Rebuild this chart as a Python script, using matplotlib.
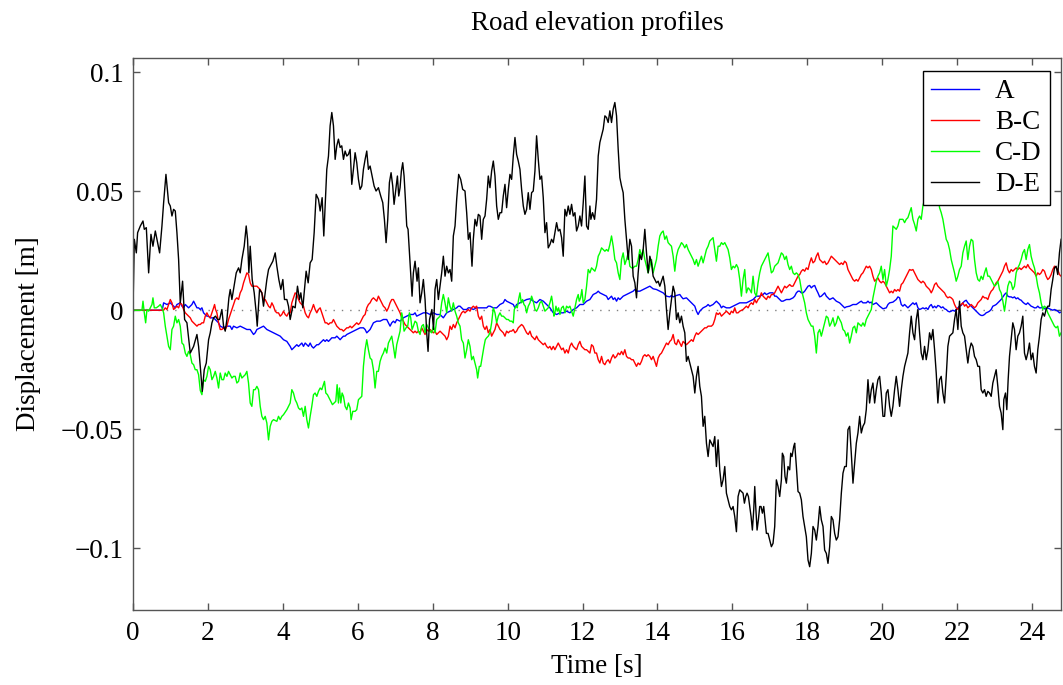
# road elevation profiles
#   displacement of four road classes vs time
import matplotlib
matplotlib.use("Agg")
import matplotlib.pyplot as plt

# data: (time [s], displacement [m])
road_a = [(0, 0), (0.78, 0), (0.818, 0.0031), (0.907, 0.0024), (0.996, 0.0031), (1.084, 0.0017), (1.129, 0.001),
    (1.173, 0.0024), (1.262, 0.0031), (1.307, 0.0017), (1.351, 0.001), (1.396, 0.0024), (1.44, 0.0017),
    (1.484, 0.001), (1.529, 0.0017), (1.573, 0.0024), (1.618, 0.0038), (1.662, 0.0024), (1.707, 0.001),
    (1.751, 0.001), (1.796, 0.0003), (1.84, 0.001), (1.884, -0.0011), (1.929, -0.0018), (1.973, -0.0025),
    (2.018, -0.0025), (2.062, -0.0032), (2.107, -0.0032), (2.151, -0.0032), (2.196, -0.0039), (2.24, -0.0046),
    (2.284, -0.0053), (2.329, -0.0067), (2.418, -0.0074), (2.507, -0.0067), (2.596, -0.0067), (2.64, -0.0081),
    (2.684, -0.0067), (2.773, -0.0074), (2.862, -0.0067), (2.951, -0.0074), (3.04, -0.0081), (3.129, -0.0081),
    (3.218, -0.0102), (3.262, -0.0095), (3.307, -0.0081), (3.396, -0.0074), (3.484, -0.0067), (3.573, -0.0081),
    (3.662, -0.0088), (3.751, -0.0095), (3.84, -0.0102), (3.929, -0.0109), (4.018, -0.0124), (4.107, -0.0131),
    (4.196, -0.0152), (4.24, -0.0166), (4.284, -0.0159), (4.329, -0.0152), (4.373, -0.0145), (4.418, -0.0152),
    (4.462, -0.0145), (4.507, -0.0138), (4.551, -0.0152), (4.596, -0.0138), (4.64, -0.0145), (4.684, -0.0152),
    (4.729, -0.0138), (4.773, -0.0152), (4.818, -0.0159), (4.862, -0.0152), (4.907, -0.0145), (4.951, -0.0145),
    (4.996, -0.0138), (5.04, -0.0131), (5.084, -0.0124), (5.129, -0.0131), (5.173, -0.0124), (5.218, -0.0131),
    (5.262, -0.0124), (5.307, -0.0116), (5.351, -0.0116), (5.396, -0.0116), (5.44, -0.0109), (5.484, -0.0116),
    (5.529, -0.0124), (5.573, -0.0116), (5.618, -0.0109), (5.662, -0.0109), (5.707, -0.0102), (5.796, -0.0095),
    (5.884, -0.0088), (5.973, -0.0081), (6.062, -0.0074), (6.151, -0.0074), (6.196, -0.0081), (6.24, -0.0095),
    (6.284, -0.0088), (6.329, -0.0081), (6.373, -0.0067), (6.418, -0.0053), (6.507, -0.0046), (6.596, -0.0046),
    (6.684, -0.0039), (6.773, -0.0039), (6.818, -0.0053), (6.862, -0.0067), (6.907, -0.0053), (6.951, -0.0046),
    (6.996, -0.0053), (7.04, -0.0039), (7.129, -0.0046), (7.218, -0.0032), (7.307, -0.0025), (7.396, -0.0018),
    (7.484, -0.0018), (7.529, -0.0011), (7.573, -0.0025), (7.662, -0.0018), (7.751, -0.0011), (7.84, -0.0011),
    (7.929, -0.0018), (8.018, -0.0011), (8.107, -0.0018), (8.196, -0.0018), (8.284, -0.0032), (8.373, -0.0011),
    (8.462, -0.0004), (8.551, 0.0003), (8.64, 0.001), (8.684, 0.0017), (8.729, 0.0017), (8.773, 0.001),
    (8.818, 0.0003), (8.907, 0.0003), (8.951, 0.001), (8.996, 0.001), (9.084, 0.0003), (9.173, 0.001),
    (9.262, 0.001), (9.351, 0.001), (9.44, 0.001), (9.484, 0.0017), (9.529, 0.0017), (9.618, 0.001),
    (9.707, 0.001), (9.751, 0.0017), (9.796, 0.0024), (9.884, 0.0031), (9.929, 0.0045), (9.973, 0.0038),
    (10.062, 0.0031), (10.151, 0.0024), (10.196, 0.001), (10.24, 0.0024), (10.329, 0.0031), (10.418, 0.0038),
    (10.507, 0.0045), (10.596, 0.0048), (10.684, 0.0038), (10.773, 0.0031), (10.862, 0.0045), (10.951, 0.0038),
    (11.04, 0.0024), (11.129, 0.001), (11.218, -0.0011), (11.307, -0.0018), (11.396, -0.0011), (11.484, -0.0011),
    (11.573, -0.0004), (11.662, -0.0011), (11.751, 0.0003), (11.84, 0.001), (11.929, 0.0024), (12.018, 0.0024),
    (12.107, 0.0038), (12.196, 0.0045), (12.284, 0.0066), (12.373, 0.0073), (12.418, 0.008), (12.462, 0.0073),
    (12.551, 0.0066), (12.64, 0.0059), (12.684, 0.0045), (12.729, 0.0052), (12.773, 0.0059), (12.818, 0.0045),
    (12.862, 0.0052), (12.907, 0.0038), (12.951, 0.0052), (12.996, 0.0045), (13.084, 0.0059), (13.173, 0.0066),
    (13.262, 0.0073), (13.351, 0.008), (13.396, 0.0087), (13.44, 0.008), (13.529, 0.008), (13.618, 0.0087),
    (13.707, 0.0094), (13.796, 0.0101), (13.884, 0.009), (13.973, 0.0087), (14.062, 0.008), (14.151, 0.0073),
    (14.196, 0.0066), (14.24, 0.0059), (14.329, 0.0056), (14.373, 0.0062), (14.418, 0.0056), (14.507, 0.0062),
    (14.596, 0.0066), (14.64, 0.0056), (14.684, 0.0048), (14.773, 0.0052), (14.818, 0.0045), (14.862, 0.0038),
    (14.951, 0.0024), (14.996, 0.0017), (15.04, -0.0004), (15.084, -0.0018), (15.129, -0.0004), (15.218, 0.001),
    (15.307, 0.0017), (15.351, 0.0024), (15.396, 0.0017), (15.484, 0.0024), (15.573, 0.0038), (15.662, 0.0024),
    (15.707, 0.001), (15.751, 0.0017), (15.84, 0.001), (15.929, 0.001), (16.018, 0.0017), (16.107, 0.0024),
    (16.196, 0.0031), (16.284, 0.0031), (16.373, 0.0031), (16.462, 0.0038), (16.551, 0.0045), (16.596, 0.0052),
    (16.64, 0.0059), (16.729, 0.0059), (16.818, 0.0066), (16.862, 0.0073), (16.907, 0.0066), (16.996, 0.0073),
    (17.084, 0.0073), (17.129, 0.0059), (17.173, 0.0059), (17.262, 0.0045), (17.307, 0.0038), (17.351, 0.0038),
    (17.44, 0.0045), (17.529, 0.0045), (17.618, 0.0052), (17.662, 0.0059), (17.707, 0.0073), (17.751, 0.008),
    (17.796, 0.008), (17.84, 0.0073), (17.884, 0.0073), (17.929, 0.008), (17.973, 0.009), (18.018, 0.0101),
    (18.062, 0.0104), (18.107, 0.0094), (18.151, 0.0101), (18.196, 0.0104), (18.24, 0.0087), (18.284, 0.0073),
    (18.329, 0.0056), (18.373, 0.0059), (18.418, 0.0066), (18.462, 0.0073), (18.507, 0.0059), (18.551, 0.0052),
    (18.596, 0.0045), (18.684, 0.0052), (18.729, 0.0045), (18.773, 0.0038), (18.862, 0.0031), (18.951, 0.0017),
    (18.996, 0.001), (19.04, 0.0014), (19.129, 0.0017), (19.218, 0.0024), (19.307, 0.0024), (19.396, 0.0034),
    (19.44, 0.0038), (19.484, 0.0031), (19.573, 0.0031), (19.618, 0.0038), (19.662, 0.0031), (19.707, 0.0034),
    (19.751, 0.0024), (19.84, 0.0031), (19.929, 0.0017), (20.018, 0.0006), (20.107, 0.001), (20.151, 0.0024),
    (20.196, 0.0031), (20.284, 0.0034), (20.373, 0.0045), (20.418, 0.0056), (20.462, 0.0052), (20.507, 0.0024),
    (20.551, 0.0017), (20.596, 0.0024), (20.64, 0.0017), (20.684, 0.001), (20.729, 0.0017), (20.773, 0.0024),
    (20.818, 0.0031), (20.862, 0.0024), (20.907, 0.0031), (20.951, 0.001), (20.996, 0.0003), (21.04, 0.0006),
    (21.084, 0.001), (21.129, 0.0006), (21.173, 0.001), (21.218, 0.0003), (21.262, 0.0017), (21.307, 0.0024),
    (21.351, 0.001), (21.396, 0.0017), (21.44, 0.001), (21.484, 0.002), (21.529, 0.0017), (21.573, 0.001),
    (21.618, 0.0014), (21.662, 0.0006), (21.707, 0.0003), (21.751, -0.0004), (21.796, -0.0007), (21.84, -0.0004),
    (21.884, 0.0), (21.929, -0.0004), (21.973, 0.0003), (22.018, 0.001), (22.062, 0.0017), (22.107, 0.002),
    (22.151, 0.0031), (22.196, 0.0038), (22.24, 0.0042), (22.284, 0.0031), (22.329, 0.0024), (22.373, 0.0017),
    (22.418, 0.001), (22.462, 0.0003), (22.507, -0.0004), (22.551, -0.0011), (22.596, -0.0018), (22.64, -0.0022),
    (22.684, -0.0022), (22.729, -0.0018), (22.773, -0.0011), (22.818, -0.0008), (22.862, -0.0004), (22.907, 0.0003),
    (22.951, 0.0017), (22.996, 0.002), (23.04, 0.0024), (23.084, 0.0031), (23.129, 0.0038), (23.173, 0.0045),
    (23.218, 0.0056), (23.262, 0.0066), (23.307, 0.0073), (23.351, 0.0059), (23.396, 0.0056), (23.44, 0.0056),
    (23.484, 0.0052), (23.529, 0.0056), (23.573, 0.0048), (23.618, 0.0052), (23.662, 0.0045), (23.707, 0.0042),
    (23.751, 0.0034), (23.796, 0.0028), (23.84, 0.0024), (23.884, 0.0031), (23.929, 0.0024), (23.973, 0.0017),
    (24.018, 0.0014), (24.062, 0.001), (24.107, 0.001), (24.151, 0.0017), (24.196, 0.001), (24.24, 0.001),
    (24.284, 0.0014), (24.329, 0.0006), (24.373, 0.0006), (24.418, 0.001), (24.462, 0.0006), (24.507, 0.0003),
    (24.551, 0.0), (24.596, 0.0003), (24.64, 0.0), (24.684, -0.0004), (24.729, -0.0011), (24.773, -0.0008)]

road_bc = [(0, 0), (0.818, 0), (0.862, 0.001), (0.907, 0.0003), (0.951, 0.0024), (0.996, 0.0045), (1.04, 0.0031),
    (1.084, 0.0003), (1.129, 0.001), (1.173, 0.0017), (1.218, 0.001), (1.262, 0.0031), (1.307, 0.0024),
    (1.351, 0.0003), (1.396, -0.0011), (1.44, -0.0018), (1.484, -0.0025), (1.529, -0.0032), (1.573, -0.0046),
    (1.618, -0.0053), (1.662, -0.006), (1.707, -0.0067), (1.751, -0.006), (1.796, -0.006), (1.84, -0.0053),
    (1.884, -0.0053), (1.929, -0.0025), (1.973, -0.0011), (2.018, -0.0025), (2.062, -0.0032), (2.107, -0.0011),
    (2.151, 0.001), (2.178, 0.0024), (2.204, 0.0003), (2.24, -0.0011), (2.284, -0.0053), (2.329, -0.0081),
    (2.373, -0.0081), (2.418, -0.0074), (2.462, -0.0081), (2.507, -0.0067), (2.551, -0.0039), (2.596, -0.0018),
    (2.64, 0.0003), (2.684, 0.0024), (2.729, 0.0045), (2.773, 0.0052), (2.818, 0.0045), (2.862, 0.0073),
    (2.907, 0.0087), (2.951, 0.0115), (2.996, 0.0136), (3.04, 0.0157), (3.084, 0.015), (3.129, 0.0115),
    (3.173, 0.0101), (3.218, 0.0101), (3.262, 0.0101), (3.307, 0.0101), (3.351, 0.0094), (3.396, 0.0087),
    (3.44, 0.0073), (3.484, 0.0045), (3.529, 0.0045), (3.573, 0.0031), (3.618, 0.0017), (3.662, 0.001),
    (3.707, 0.0031), (3.751, 0.0017), (3.796, -0.0004), (3.84, -0.0011), (3.884, -0.0011), (3.929, -0.0025),
    (3.973, -0.0018), (4.018, -0.0004), (4.062, -0.0018), (4.107, -0.0025), (4.151, -0.0011), (4.196, -0.0011),
    (4.24, 0.0031), (4.284, 0.0052), (4.329, 0.0073), (4.373, 0.0066), (4.418, 0.0045), (4.462, 0.0031),
    (4.507, 0.0024), (4.551, 0.0017), (4.596, -0.0011), (4.64, -0.0025), (4.684, -0.0032), (4.729, -0.0011),
    (4.773, 0.0003), (4.818, 0.0024), (4.862, 0.0003), (4.907, -0.0011), (4.951, 0.0003), (4.996, 0.001),
    (5.04, -0.0011), (5.084, -0.0032), (5.129, -0.0053), (5.173, -0.0053), (5.218, -0.006), (5.262, -0.0053),
    (5.307, -0.0053), (5.351, -0.0039), (5.396, -0.0053), (5.44, -0.0067), (5.484, -0.0074), (5.529, -0.0081),
    (5.573, -0.0081), (5.618, -0.0088), (5.662, -0.0081), (5.707, -0.0074), (5.751, -0.0074), (5.796, -0.0067),
    (5.84, -0.0074), (5.884, -0.0067), (5.929, -0.006), (5.973, -0.0053), (6.018, -0.006), (6.062, -0.0053),
    (6.107, -0.0039), (6.151, -0.0025), (6.196, -0.0018), (6.24, 0.001), (6.284, 0.0024), (6.329, 0.0031),
    (6.373, 0.0045), (6.418, 0.0052), (6.462, 0.0045), (6.507, 0.0038), (6.551, 0.0059), (6.596, 0.0045),
    (6.64, 0.0031), (6.684, 0.0017), (6.729, 0.001), (6.773, -0.0004), (6.818, 0.001), (6.862, 0.0031),
    (6.907, 0.0045), (6.951, 0.0045), (6.996, 0.0031), (7.04, 0.0017), (7.084, 0.0003), (7.129, -0.0011),
    (7.173, -0.0032), (7.218, -0.0046), (7.262, -0.006), (7.307, -0.0067), (7.351, -0.0074), (7.396, -0.0081),
    (7.44, -0.0088), (7.484, -0.0095), (7.529, -0.0088), (7.573, -0.0095), (7.618, -0.0088), (7.662, -0.0095),
    (7.707, -0.0074), (7.751, -0.0088), (7.796, -0.0102), (7.84, -0.0081), (7.884, -0.0088), (7.929, -0.0081),
    (7.973, -0.0088), (8.018, -0.0095), (8.062, -0.0088), (8.107, -0.0102), (8.151, -0.0095), (8.196, -0.0088),
    (8.284, -0.0102), (8.329, -0.0109), (8.373, -0.0124), (8.418, -0.0109), (8.462, -0.0067), (8.507, -0.0081),
    (8.551, -0.006), (8.596, -0.0074), (8.64, -0.0053), (8.684, -0.0039), (8.729, -0.0025), (8.773, -0.0011),
    (8.818, -0.0004), (8.862, -0.0011), (8.907, -0.0004), (8.951, 0.0003), (8.996, -0.0004), (9.04, 0.001),
    (9.084, 0.0017), (9.129, 0.001), (9.173, 0.0017), (9.218, -0.0025), (9.262, -0.0039), (9.307, -0.0025),
    (9.351, -0.0067), (9.396, -0.0081), (9.44, -0.0067), (9.484, -0.0095), (9.529, -0.0081), (9.573, -0.0109),
    (9.618, -0.0095), (9.662, -0.0081), (9.707, -0.0053), (9.751, -0.0067), (9.796, -0.0081), (9.84, -0.0088),
    (9.884, -0.0095), (9.929, -0.0109), (9.973, -0.0088), (10.018, -0.0095), (10.062, -0.0088), (10.107, -0.0088),
    (10.151, -0.0081), (10.196, -0.0095), (10.24, -0.0088), (10.284, -0.0074), (10.329, -0.0067), (10.373, -0.006),
    (10.418, -0.0067), (10.462, -0.0081), (10.507, -0.0095), (10.551, -0.0102), (10.596, -0.0088), (10.64, -0.0109),
    (10.684, -0.0116), (10.729, -0.0124), (10.773, -0.0109), (10.818, -0.0124), (10.862, -0.0131), (10.907, -0.0138),
    (10.951, -0.0145), (10.996, -0.0138), (11.04, -0.0152), (11.084, -0.0159), (11.129, -0.0152), (11.173, -0.0166),
    (11.218, -0.0152), (11.262, -0.0166), (11.307, -0.0152), (11.351, -0.0138), (11.396, -0.0152), (11.44, -0.0166),
    (11.484, -0.0159), (11.529, -0.018), (11.573, -0.0166), (11.618, -0.018), (11.662, -0.0152), (11.707, -0.0138),
    (11.751, -0.0152), (11.796, -0.0159), (11.84, -0.0166), (11.884, -0.0145), (11.929, -0.0131), (11.973, -0.0152),
    (12.018, -0.0159), (12.062, -0.0166), (12.107, -0.0166), (12.151, -0.0173), (12.196, -0.018), (12.24, -0.0145),
    (12.284, -0.0152), (12.329, -0.018), (12.373, -0.018), (12.418, -0.0208), (12.462, -0.0222), (12.507, -0.0194),
    (12.551, -0.0222), (12.596, -0.0229), (12.64, -0.0215), (12.684, -0.0208), (12.729, -0.0222), (12.773, -0.0201),
    (12.818, -0.0187), (12.862, -0.0201), (12.907, -0.0194), (12.951, -0.018), (12.996, -0.0187), (13.04, -0.0173),
    (13.084, -0.0187), (13.129, -0.0166), (13.173, -0.0194), (13.218, -0.0201), (13.262, -0.0201), (13.307, -0.0208),
    (13.351, -0.0208), (13.396, -0.0222), (13.44, -0.0236), (13.484, -0.0222), (13.529, -0.0229), (13.573, -0.0215),
    (13.618, -0.0194), (13.662, -0.0187), (13.707, -0.0194), (13.751, -0.0187), (13.796, -0.0194), (13.84, -0.0208),
    (13.884, -0.0194), (13.929, -0.0215), (13.973, -0.0236), (14.018, -0.0201), (14.062, -0.0187), (14.107, -0.018),
    (14.151, -0.0166), (14.196, -0.0152), (14.24, -0.0138), (14.284, -0.0145), (14.329, -0.0131), (14.373, -0.0124),
    (14.418, -0.0102), (14.462, -0.0138), (14.507, -0.0145), (14.551, -0.0124), (14.596, -0.0138), (14.64, -0.0152),
    (14.684, -0.0131), (14.729, -0.0138), (14.773, -0.0145), (14.818, -0.0138), (14.862, -0.0131), (14.907, -0.0124),
    (14.951, -0.0131), (14.996, -0.0109), (15.04, -0.0095), (15.084, -0.0102), (15.129, -0.0095), (15.173, -0.0088),
    (15.218, -0.0081), (15.262, -0.0074), (15.307, -0.0074), (15.351, -0.0067), (15.396, -0.0067), (15.44, -0.0067),
    (15.484, -0.006), (15.529, -0.0039), (15.573, -0.0011), (15.618, -0.0018), (15.662, -0.0011), (15.707, -0.0025),
    (15.751, -0.0018), (15.796, -0.0011), (15.84, -0.0004), (15.884, -0.0011), (15.929, -0.0018), (15.973, -0.0004),
    (16.018, -0.0011), (16.062, 0.001), (16.107, -0.0011), (16.151, -0.0011), (16.196, -0.0004), (16.284, 0.0003),
    (16.329, 0.001), (16.373, 0.0017), (16.418, 0.001), (16.462, 0.0024), (16.507, 0.0031), (16.551, 0.0024),
    (16.596, 0.0045), (16.64, 0.0031), (16.684, 0.0045), (16.729, 0.0052), (16.773, 0.0073), (16.818, 0.0059),
    (16.862, 0.0052), (16.907, 0.0045), (16.951, 0.0059), (16.996, 0.0052), (17.04, 0.0066), (17.084, 0.0066),
    (17.129, 0.0073), (17.173, 0.0087), (17.218, 0.0101), (17.262, 0.0087), (17.307, 0.0073), (17.351, 0.0087),
    (17.396, 0.0101), (17.44, 0.0094), (17.484, 0.0101), (17.529, 0.0108), (17.573, 0.0101), (17.618, 0.0101),
    (17.662, 0.0115), (17.707, 0.0129), (17.751, 0.0143), (17.796, 0.015), (17.84, 0.0164), (17.884, 0.0171),
    (17.929, 0.0164), (17.973, 0.0178), (18.018, 0.0171), (18.062, 0.0199), (18.107, 0.022), (18.151, 0.0199),
    (18.196, 0.0206), (18.24, 0.0227), (18.284, 0.0241), (18.329, 0.0213), (18.373, 0.0206), (18.418, 0.0199),
    (18.462, 0.0206), (18.507, 0.0192), (18.551, 0.0199), (18.596, 0.0213), (18.64, 0.0227), (18.684, 0.022),
    (18.729, 0.0213), (18.773, 0.0206), (18.818, 0.0199), (18.862, 0.0192), (18.907, 0.0199), (18.951, 0.0192),
    (18.996, 0.0206), (19.04, 0.0199), (19.084, 0.0171), (19.129, 0.0157), (19.173, 0.0143), (19.218, 0.0129),
    (19.262, 0.0122), (19.307, 0.0129), (19.351, 0.0122), (19.396, 0.0136), (19.44, 0.015), (19.484, 0.0157),
    (19.529, 0.0171), (19.573, 0.0185), (19.618, 0.0178), (19.662, 0.0185), (19.707, 0.0171), (19.751, 0.0143),
    (19.796, 0.0122), (19.84, 0.0129), (19.884, 0.0136), (19.929, 0.0122), (19.973, 0.0115), (20.018, 0.0122),
    (20.062, 0.0115), (20.107, 0.0101), (20.151, 0.0087), (20.196, 0.0073), (20.24, 0.008), (20.284, 0.0073),
    (20.329, 0.0087), (20.373, 0.008), (20.418, 0.0087), (20.462, 0.008), (20.507, 0.0108), (20.551, 0.0115),
    (20.596, 0.0129), (20.64, 0.0143), (20.684, 0.0157), (20.729, 0.0171), (20.773, 0.0168), (20.818, 0.0171),
    (20.862, 0.0157), (20.907, 0.0143), (20.951, 0.0129), (20.996, 0.0122), (21.04, 0.0115), (21.084, 0.0122),
    (21.129, 0.0115), (21.173, 0.0101), (21.218, 0.0094), (21.262, 0.0087), (21.307, 0.0073), (21.351, 0.0087),
    (21.396, 0.0108), (21.44, 0.0115), (21.484, 0.0101), (21.529, 0.0094), (21.573, 0.0087), (21.618, 0.008),
    (21.662, 0.0073), (21.707, 0.0059), (21.751, 0.0052), (21.796, 0.0056), (21.84, 0.0052), (21.884, 0.0045),
    (21.929, 0.0024), (21.973, 0.001), (22.018, 0.0003), (22.062, 0.0017), (22.107, 0.0024), (22.151, 0.0031),
    (22.196, 0.0017), (22.24, 0.0024), (22.284, 0.001), (22.329, 0.0017), (22.373, 0.0024), (22.418, 0.0017),
    (22.462, 0.001), (22.507, 0.0017), (22.551, 0.0031), (22.596, 0.0038), (22.64, 0.0045), (22.684, 0.0059),
    (22.729, 0.0052), (22.773, 0.0052), (22.818, 0.0045), (22.862, 0.0066), (22.907, 0.008), (22.951, 0.0087),
    (22.996, 0.0101), (23.04, 0.0115), (23.084, 0.0122), (23.129, 0.0136), (23.173, 0.015), (23.218, 0.0164),
    (23.262, 0.0185), (23.307, 0.0199), (23.351, 0.0171), (23.396, 0.0157), (23.44, 0.0171), (23.484, 0.0164),
    (23.529, 0.0171), (23.573, 0.0178), (23.618, 0.0171), (23.662, 0.0178), (23.707, 0.0171), (23.751, 0.0178),
    (23.796, 0.0185), (23.84, 0.0178), (23.884, 0.0192), (23.929, 0.0178), (23.973, 0.0171), (24.018, 0.0164),
    (24.062, 0.0157), (24.107, 0.0143), (24.151, 0.0157), (24.196, 0.015), (24.24, 0.0157), (24.284, 0.0171),
    (24.329, 0.0164), (24.373, 0.0143), (24.418, 0.0129), (24.462, 0.0136), (24.507, 0.015), (24.551, 0.0171),
    (24.596, 0.0185), (24.64, 0.0178), (24.684, 0.0171), (24.729, 0.015), (24.773, 0.0143)]

road_cd = [(0, 0), (0.24, 0), (0.267, 0.0038), (0.302, -0.0011), (0.338, -0.0053), (0.373, 0.0003), (0.418, -0.0004),
    (0.462, 0.001), (0.507, 0.0024), (0.533, 0.0052), (0.569, 0.001), (0.622, 0.001), (0.684, 0.0017),
    (0.729, 0.0024), (0.773, 0.001), (0.818, -0.0011), (0.862, -0.0067), (0.907, -0.0109), (0.951, -0.0152),
    (0.996, -0.0166), (1.04, -0.0081), (1.084, -0.0067), (1.129, -0.0025), (1.173, -0.0053), (1.218, -0.0039),
    (1.262, -0.0067), (1.307, -0.0138), (1.351, -0.0145), (1.396, -0.018), (1.44, -0.0194), (1.484, -0.0173),
    (1.529, -0.0187), (1.573, -0.0222), (1.618, -0.0229), (1.662, -0.025), (1.707, -0.025), (1.751, -0.0271),
    (1.796, -0.0337), (1.84, -0.0355), (1.884, -0.0292), (1.929, -0.0299), (1.973, -0.0278), (2.018, -0.0236),
    (2.062, -0.025), (2.107, -0.0292), (2.151, -0.0278), (2.196, -0.0257), (2.24, -0.0285), (2.284, -0.0327),
    (2.329, -0.0264), (2.373, -0.0292), (2.418, -0.0292), (2.462, -0.0264), (2.507, -0.0278), (2.551, -0.0257),
    (2.596, -0.0271), (2.64, -0.0285), (2.684, -0.0278), (2.729, -0.0278), (2.773, -0.0306), (2.818, -0.0299),
    (2.862, -0.0264), (2.907, -0.0285), (2.951, -0.0278), (2.996, -0.0271), (3.04, -0.0257), (3.084, -0.0306),
    (3.129, -0.039), (3.173, -0.0404), (3.218, -0.0334), (3.262, -0.0334), (3.307, -0.032), (3.351, -0.0334),
    (3.396, -0.0404), (3.44, -0.0446), (3.484, -0.046), (3.529, -0.0446), (3.573, -0.0474), (3.618, -0.0545),
    (3.662, -0.0488), (3.707, -0.0467), (3.751, -0.046), (3.84, -0.0467), (3.884, -0.0446), (3.929, -0.046),
    (3.973, -0.0446), (4.018, -0.0439), (4.107, -0.0418), (4.196, -0.039), (4.24, -0.0334), (4.284, -0.0348),
    (4.329, -0.0376), (4.373, -0.039), (4.418, -0.0411), (4.462, -0.0418), (4.507, -0.0411), (4.551, -0.0446),
    (4.596, -0.0404), (4.64, -0.046), (4.684, -0.0495), (4.729, -0.0446), (4.773, -0.0404), (4.818, -0.0355),
    (4.862, -0.0348), (4.907, -0.0362), (4.951, -0.0341), (4.996, -0.0327), (5.04, -0.0334), (5.084, -0.0313),
    (5.111, -0.0299), (5.147, -0.0348), (5.191, -0.0355), (5.236, -0.0369), (5.28, -0.0383), (5.324, -0.0397),
    (5.369, -0.039), (5.413, -0.0383), (5.449, -0.0313), (5.484, -0.039), (5.511, -0.0327), (5.547, -0.039),
    (5.582, -0.0348), (5.618, -0.0362), (5.662, -0.0404), (5.707, -0.0418), (5.751, -0.039), (5.796, -0.0411),
    (5.822, -0.046), (5.867, -0.0425), (5.929, -0.0425), (5.973, -0.0418), (6.018, -0.0376), (6.062, -0.0369),
    (6.107, -0.0362), (6.151, -0.0236), (6.196, -0.0166), (6.24, -0.0124), (6.284, -0.0166), (6.329, -0.0201),
    (6.373, -0.0208), (6.418, -0.025), (6.462, -0.0327), (6.507, -0.0257), (6.551, -0.0257), (6.596, -0.0215),
    (6.64, -0.0194), (6.684, -0.018), (6.729, -0.0159), (6.773, -0.018), (6.818, -0.0138), (6.862, -0.0124),
    (6.907, -0.0109), (6.951, -0.0152), (6.996, -0.0201), (7.04, -0.0145), (7.084, -0.0116), (7.129, -0.0088),
    (7.173, -0.0011), (7.2, -0.0032), (7.236, -0.0088), (7.289, -0.0074), (7.333, -0.0067), (7.378, -0.0011),
    (7.413, -0.0032), (7.449, -0.0081), (7.484, -0.0067), (7.529, -0.0046), (7.573, -0.0053), (7.618, -0.0088),
    (7.662, -0.0102), (7.707, -0.0067), (7.751, -0.006), (7.796, -0.0095), (7.84, -0.006), (7.884, -0.0074),
    (7.929, -0.0088), (7.973, -0.0095), (8.018, -0.0067), (8.062, -0.0095), (8.107, -0.0039), (8.151, -0.0032),
    (8.196, -0.0025), (8.24, 0.0031), (8.284, 0.0066), (8.329, 0.0031), (8.373, -0.0011), (8.418, 0.0052),
    (8.462, 0.0017), (8.507, -0.0004), (8.551, 0.0031), (8.596, -0.0004), (8.64, -0.0025), (8.684, -0.0053),
    (8.729, -0.0067), (8.773, -0.0124), (8.818, -0.0138), (8.862, -0.0201), (8.907, -0.0166), (8.951, -0.0124),
    (8.996, -0.0152), (9.04, -0.0208), (9.084, -0.0194), (9.129, -0.0222), (9.173, -0.025), (9.2, -0.0285),
    (9.244, -0.0236), (9.28, -0.0236), (9.324, -0.0194), (9.369, -0.0152), (9.404, -0.0124), (9.44, -0.0116),
    (9.484, -0.0109), (9.529, -0.0095), (9.573, -0.0053), (9.618, 0.001), (9.662, -0.0011), (9.707, -0.0053),
    (9.751, -0.0025), (9.796, -0.0011), (9.84, -0.0025), (9.884, -0.0025), (9.929, -0.0032), (9.973, -0.0039),
    (10.018, -0.0039), (10.062, -0.0046), (10.107, -0.0046), (10.151, -0.0053), (10.178, 0.0003), (10.222, 0.0017),
    (10.258, 0.001), (10.293, 0.0045), (10.329, 0.0073), (10.364, 0.0031), (10.4, 0.0045), (10.436, 0.0024),
    (10.471, 0.0017), (10.507, -0.0011), (10.551, 0.0017), (10.596, 0.0031), (10.64, 0.0059), (10.684, 0.0038),
    (10.729, 0.0003), (10.773, -0.0004), (10.818, 0.001), (10.862, 0.0031), (10.907, 0.0038), (10.951, 0.0017),
    (10.996, -0.0004), (11.04, 0.0003), (11.084, 0.001), (11.129, 0.0031), (11.173, 0.0059), (11.2, 0.0031),
    (11.236, -0.0025), (11.262, -0.0011), (11.289, 0.0017), (11.324, -0.0004), (11.36, 0.001), (11.396, -0.0018),
    (11.44, 0.001), (11.484, 0.0017), (11.529, -0.0011), (11.573, 0.0017), (11.618, 0.001), (11.662, 0.0017),
    (11.707, -0.0004), (11.751, -0.0025), (11.796, 0.001), (11.84, 0.0045), (11.884, 0.0066), (11.911, 0.0038),
    (11.947, 0.0052), (11.982, 0.0087), (12.018, 0.0031), (12.062, 0.0045), (12.107, 0.0101), (12.151, 0.0171),
    (12.196, 0.0157), (12.24, 0.0178), (12.284, 0.0171), (12.329, 0.0164), (12.373, 0.0185), (12.418, 0.0227),
    (12.462, 0.0241), (12.507, 0.0262), (12.551, 0.0255), (12.596, 0.0248), (12.64, 0.0255), (12.684, 0.0248),
    (12.729, 0.0276), (12.773, 0.0312), (12.818, 0.0269), (12.862, 0.0213), (12.907, 0.0199), (12.951, 0.0157),
    (12.996, 0.0129), (13.04, 0.0213), (13.084, 0.0241), (13.129, 0.0192), (13.173, 0.0213), (13.218, 0.0241),
    (13.262, 0.0185), (13.307, 0.0178), (13.351, 0.0178), (13.396, 0.0185), (13.44, 0.0185), (13.484, 0.0213),
    (13.529, 0.0255), (13.573, 0.0227), (13.618, 0.0255), (13.662, 0.0213), (13.707, 0.0185), (13.751, 0.0157),
    (13.796, 0.0185), (13.84, 0.0213), (13.884, 0.0157), (13.929, 0.0185), (13.973, 0.0213), (14.018, 0.0269),
    (14.062, 0.0312), (14.107, 0.0326), (14.151, 0.0333), (14.196, 0.0298), (14.24, 0.0312), (14.284, 0.0284),
    (14.329, 0.0276), (14.373, 0.0269), (14.418, 0.0227), (14.462, 0.0164), (14.507, 0.0227), (14.551, 0.0255),
    (14.596, 0.0269), (14.64, 0.0284), (14.684, 0.0276), (14.729, 0.0262), (14.773, 0.0276), (14.818, 0.0255),
    (14.862, 0.0241), (14.907, 0.0227), (14.951, 0.0213), (14.996, 0.0192), (15.04, 0.0213), (15.084, 0.0185),
    (15.129, 0.0206), (15.173, 0.0227), (15.218, 0.0199), (15.262, 0.0227), (15.307, 0.0255), (15.351, 0.0269),
    (15.396, 0.0291), (15.44, 0.0298), (15.484, 0.0305), (15.529, 0.0255), (15.573, 0.0206), (15.618, 0.0269),
    (15.662, 0.0269), (15.707, 0.0284), (15.751, 0.0276), (15.796, 0.0284), (15.84, 0.0269), (15.884, 0.0255),
    (15.929, 0.022), (15.973, 0.0171), (16.018, 0.0185), (16.062, 0.0178), (16.107, 0.0192), (16.151, 0.0178),
    (16.196, 0.0129), (16.24, 0.0059), (16.284, 0.0129), (16.329, 0.0171), (16.373, 0.0073), (16.418, 0.0094),
    (16.462, 0.0087), (16.507, 0.0073), (16.551, 0.0143), (16.596, 0.0073), (16.64, 0.0059), (16.684, 0.0115),
    (16.729, 0.0157), (16.773, 0.0185), (16.818, 0.0199), (16.862, 0.0213), (16.907, 0.0227), (16.951, 0.0241),
    (16.996, 0.0199), (17.04, 0.0157), (17.084, 0.0164), (17.129, 0.0185), (17.173, 0.0192), (17.218, 0.0199),
    (17.262, 0.022), (17.307, 0.0241), (17.351, 0.0234), (17.396, 0.0213), (17.44, 0.0227), (17.484, 0.0192),
    (17.529, 0.0171), (17.573, 0.0185), (17.618, 0.0157), (17.662, 0.015), (17.707, 0.0157), (17.751, 0.015),
    (17.796, 0.0129), (17.84, 0.0087), (17.884, 0.0059), (17.929, 0.0031), (17.973, -0.0011), (18.018, -0.0039),
    (18.062, -0.0053), (18.107, -0.0067), (18.151, -0.0067), (18.196, -0.0109), (18.24, -0.018), (18.284, -0.0095),
    (18.329, -0.0081), (18.373, -0.0109), (18.418, -0.0081), (18.462, -0.0053), (18.507, -0.0025), (18.551, -0.0032),
    (18.596, -0.0067), (18.64, -0.0053), (18.684, -0.0032), (18.729, -0.0067), (18.773, -0.0053), (18.818, -0.0025),
    (18.862, -0.0039), (18.907, -0.0053), (18.951, -0.0081), (18.996, -0.0088), (19.04, -0.0109), (19.084, -0.0095),
    (19.129, -0.0138), (19.173, -0.0109), (19.218, -0.0074), (19.262, -0.0067), (19.307, -0.0095), (19.351, -0.0053),
    (19.396, -0.006), (19.44, -0.0067), (19.484, -0.0053), (19.529, -0.0067), (19.573, -0.0039), (19.618, -0.0025),
    (19.662, -0.0011), (19.707, 0.0003), (19.751, 0.0052), (19.796, 0.0087), (19.84, 0.0122), (19.884, 0.0143),
    (19.929, 0.0157), (19.973, 0.0185), (20.018, 0.0129), (20.062, 0.0171), (20.107, 0.0101), (20.151, 0.0129),
    (20.196, 0.0171), (20.24, 0.0227), (20.284, 0.0354), (20.329, 0.0347), (20.373, 0.034), (20.418, 0.0354),
    (20.462, 0.0382), (20.507, 0.0382), (20.551, 0.0382), (20.596, 0.0368), (20.64, 0.0382), (20.684, 0.0389),
    (20.729, 0.041), (20.773, 0.0431), (20.818, 0.0382), (20.862, 0.0361), (20.907, 0.0333), (20.951, 0.0382),
    (20.996, 0.0396), (21.04, 0.0382), (21.084, 0.0438), (21.129, 0.0466), (21.173, 0.048), (21.218, 0.0466),
    (21.262, 0.0494), (21.307, 0.0508), (21.351, 0.0536), (21.4, 0.057), (21.46, 0.052), (21.529, 0.0431),
    (21.573, 0.041), (21.618, 0.0382), (21.662, 0.034), (21.707, 0.0298), (21.751, 0.0284), (21.796, 0.0255),
    (21.84, 0.0213), (21.884, 0.0185), (21.929, 0.0157), (21.973, 0.0122), (22.018, 0.0143), (22.062, 0.0171),
    (22.107, 0.0185), (22.151, 0.0241), (22.196, 0.0269), (22.24, 0.0291), (22.284, 0.0213), (22.329, 0.0269),
    (22.373, 0.0298), (22.418, 0.0291), (22.462, 0.0213), (22.507, 0.0157), (22.551, 0.0129), (22.596, 0.0122),
    (22.64, 0.0143), (22.684, 0.0129), (22.729, 0.0157), (22.773, 0.0178), (22.818, 0.0143), (22.862, 0.0143),
    (22.907, 0.0129), (22.951, 0.0115), (22.996, 0.0101), (23.04, 0.0108), (23.084, 0.0122), (23.129, 0.0087),
    (23.173, 0.0073), (23.218, 0.0038), (23.262, -0.0004), (23.307, 0.0045), (23.351, 0.0101), (23.396, 0.0122),
    (23.44, 0.0115), (23.484, 0.0087), (23.529, 0.0101), (23.573, 0.0157), (23.618, 0.0178), (23.662, 0.0192),
    (23.707, 0.0213), (23.751, 0.0241), (23.796, 0.0255), (23.84, 0.0213), (23.884, 0.0255), (23.929, 0.0276),
    (23.973, 0.0227), (24.018, 0.0199), (24.062, 0.0178), (24.107, 0.0143), (24.151, 0.0101), (24.196, 0.0073),
    (24.24, 0.0031), (24.284, 0.0003), (24.329, 0.0017), (24.373, 0.001), (24.418, -0.0011), (24.462, -0.0025),
    (24.507, -0.0039), (24.551, -0.0053), (24.596, -0.0067), (24.64, -0.0074), (24.684, -0.0067), (24.729, -0.0109),
    (24.773, -0.0095)]

road_de = [(0, 0), (0.036, 0.0298), (0.089, 0.0241), (0.124, 0.0326), (0.196, 0.0354), (0.267, 0.0375), (0.302, 0.034),
    (0.356, 0.0347), (0.418, 0.0157), (0.48, 0.0319), (0.533, 0.0269), (0.596, 0.0333), (0.64, 0.0298),
    (0.711, 0.0241), (0.773, 0.0354), (0.818, 0.0452), (0.88, 0.0571), (0.951, 0.0452), (0.996, 0.0438),
    (1.04, 0.0396), (1.084, 0.0424), (1.129, 0.0417), (1.173, 0.0326), (1.218, 0.0213), (1.262, 0.0031),
    (1.324, 0.0122), (1.378, -0.0039), (1.44, -0.0053), (1.529, -0.018), (1.618, -0.0152), (1.707, -0.0102),
    (1.751, -0.0152), (1.796, -0.0236), (1.849, -0.0341), (1.902, -0.025), (1.956, -0.0222), (2.018, -0.0124),
    (2.062, -0.0095), (2.107, -0.0053), (2.151, -0.0032), (2.204, -0.0025), (2.258, -0.0039), (2.311, -0.0039),
    (2.373, 0.0003), (2.418, -0.0067), (2.462, -0.0088), (2.507, -0.0039), (2.56, 0.0052), (2.596, 0.0087),
    (2.64, 0.0045), (2.684, 0.0087), (2.756, 0.0157), (2.818, 0.0178), (2.862, 0.0157), (2.907, 0.0213),
    (2.969, 0.0269), (3.022, 0.0354), (3.058, 0.0298), (3.093, 0.0157), (3.129, 0.0269), (3.182, 0.0129),
    (3.236, 0.0073), (3.289, -0.0011), (3.316, -0.0067), (3.378, 0.0087), (3.44, 0.0073), (3.484, 0.0017),
    (3.529, 0.0073), (3.573, 0.0129), (3.618, 0.0171), (3.662, 0.0185), (3.733, 0.0206), (3.796, 0.0241),
    (3.84, 0.0185), (3.893, 0.0129), (3.947, 0.0087), (4.0, 0.0129), (4.044, 0.0045), (4.107, 0.0045),
    (4.151, 0.0017), (4.196, -0.0039), (4.267, 0.0017), (4.329, 0.001), (4.391, 0.0101), (4.444, 0.0045),
    (4.48, 0.0073), (4.533, 0.001), (4.569, 0.0073), (4.622, 0.0164), (4.676, 0.0115), (4.729, 0.0199),
    (4.782, 0.0213), (4.836, 0.0326), (4.889, 0.0487), (4.951, 0.0466), (4.996, 0.0417), (5.049, 0.0473),
    (5.093, 0.0312), (5.138, 0.0466), (5.173, 0.0592), (5.218, 0.0648), (5.262, 0.0775), (5.307, 0.0831),
    (5.351, 0.0775), (5.396, 0.0634), (5.44, 0.0691), (5.484, 0.0719), (5.529, 0.0684), (5.573, 0.0691),
    (5.618, 0.0634), (5.662, 0.0669), (5.707, 0.0648), (5.751, 0.0655), (5.796, 0.0676), (5.84, 0.0529),
    (5.884, 0.0592), (5.929, 0.0662), (5.973, 0.062), (6.018, 0.055), (6.062, 0.0508), (6.107, 0.0522),
    (6.151, 0.0592), (6.196, 0.0634), (6.24, 0.0669), (6.284, 0.0592), (6.329, 0.0606), (6.373, 0.0571),
    (6.436, 0.0522), (6.489, 0.0501), (6.551, 0.0515), (6.613, 0.048), (6.667, 0.0452), (6.711, 0.0382),
    (6.756, 0.0284), (6.8, 0.0382), (6.844, 0.0536), (6.889, 0.0578), (6.933, 0.0522), (6.969, 0.0445),
    (7.022, 0.0515), (7.058, 0.0564), (7.093, 0.048), (7.129, 0.0515), (7.164, 0.0585), (7.2, 0.062),
    (7.236, 0.0564), (7.271, 0.0466), (7.307, 0.0354), (7.342, 0.034), (7.396, 0.0199), (7.449, 0.0059),
    (7.484, 0.0157), (7.529, 0.0206), (7.582, 0.0122), (7.618, 0.0178), (7.662, 0.0031), (7.707, 0.0073),
    (7.751, 0.0129), (7.796, 0.0045), (7.84, -0.0095), (7.876, -0.0173), (7.916, -0.0039), (7.978, 0.0003),
    (8.022, -0.0081), (8.062, 0.0087), (8.107, 0.0129), (8.151, 0.0045), (8.196, 0.0101), (8.24, 0.0157),
    (8.284, 0.0227), (8.329, 0.0143), (8.373, 0.0185), (8.418, 0.0157), (8.462, 0.0171), (8.507, 0.0122),
    (8.551, 0.0312), (8.596, 0.0354), (8.64, 0.0466), (8.693, 0.0571), (8.747, 0.055), (8.8, 0.0508),
    (8.862, 0.0501), (8.907, 0.041), (8.951, 0.0298), (8.996, 0.0326), (9.049, 0.0185), (9.084, 0.0298),
    (9.129, 0.0382), (9.173, 0.0354), (9.218, 0.0403), (9.262, 0.0396), (9.307, 0.0298), (9.351, 0.0382),
    (9.396, 0.0396), (9.44, 0.0466), (9.484, 0.0564), (9.529, 0.0515), (9.573, 0.0585), (9.618, 0.0627),
    (9.662, 0.0564), (9.707, 0.0438), (9.751, 0.0382), (9.796, 0.041), (9.84, 0.041), (9.884, 0.048),
    (9.929, 0.0529), (9.973, 0.0431), (10.018, 0.0508), (10.062, 0.0571), (10.107, 0.055), (10.151, 0.0648),
    (10.196, 0.0726), (10.24, 0.0655), (10.284, 0.0627), (10.329, 0.0592), (10.373, 0.0508), (10.418, 0.0438),
    (10.462, 0.0403), (10.507, 0.0424), (10.551, 0.0494), (10.596, 0.0424), (10.64, 0.0494), (10.684, 0.0501),
    (10.729, 0.0585), (10.773, 0.0733), (10.818, 0.0634), (10.862, 0.055), (10.907, 0.0564), (10.951, 0.0473),
    (10.996, 0.0326), (11.04, 0.0368), (11.084, 0.0262), (11.129, 0.0276), (11.173, 0.0298), (11.218, 0.0284),
    (11.262, 0.0326), (11.307, 0.0368), (11.351, 0.0333), (11.396, 0.034), (11.44, 0.0305), (11.484, 0.0227),
    (11.529, 0.0424), (11.573, 0.0396), (11.618, 0.0438), (11.662, 0.0403), (11.707, 0.0445), (11.751, 0.0396),
    (11.796, 0.041), (11.84, 0.0333), (11.884, 0.0354), (11.929, 0.0396), (11.973, 0.0354), (12.018, 0.0452),
    (12.062, 0.0564), (12.107, 0.0354), (12.151, 0.034), (12.196, 0.0438), (12.222, 0.0382), (12.267, 0.041),
    (12.32, 0.0382), (12.373, 0.0466), (12.418, 0.0648), (12.462, 0.0705), (12.507, 0.0733), (12.551, 0.0761),
    (12.596, 0.0817), (12.64, 0.081), (12.684, 0.0789), (12.729, 0.0838), (12.773, 0.0789), (12.818, 0.0845),
    (12.862, 0.0873), (12.907, 0.0817), (12.951, 0.0676), (12.996, 0.0557), (13.04, 0.0522), (13.084, 0.0494),
    (13.129, 0.0382), (13.173, 0.0298), (13.218, 0.0213), (13.262, 0.0298), (13.307, 0.0269), (13.351, 0.0143),
    (13.396, 0.0115), (13.44, 0.0052), (13.484, 0.0157), (13.529, 0.0234), (13.573, 0.0213), (13.618, 0.0255),
    (13.662, 0.034), (13.707, 0.0241), (13.751, 0.0157), (13.796, 0.0227), (13.84, 0.0199), (13.884, 0.0143),
    (13.929, 0.0129), (13.973, 0.0115), (14.018, 0.0122), (14.062, 0.0101), (14.107, 0.0122), (14.151, 0.0143),
    (14.196, 0.0101), (14.24, 0.0003), (14.284, -0.0081), (14.329, -0.0011), (14.373, 0.0045), (14.418, 0.0101),
    (14.462, 0.0073), (14.507, -0.0039), (14.551, -0.0011), (14.596, -0.0053), (14.64, -0.0025), (14.684, -0.0067),
    (14.729, -0.0095), (14.773, -0.0215), (14.818, -0.0194), (14.862, -0.0222), (14.907, -0.025), (14.951, -0.0278),
    (14.996, -0.0348), (15.04, -0.0278), (15.084, -0.0236), (15.129, -0.032), (15.173, -0.0362), (15.218, -0.0488),
    (15.262, -0.0446), (15.307, -0.0559), (15.351, -0.0615), (15.396, -0.0545), (15.44, -0.0559), (15.484, -0.0573),
    (15.529, -0.0531), (15.573, -0.0657), (15.618, -0.0545), (15.662, -0.0671), (15.707, -0.0741), (15.751, -0.0713),
    (15.796, -0.0657), (15.84, -0.0769), (15.884, -0.0797), (15.929, -0.0825), (15.973, -0.0839), (16.018, -0.0825),
    (16.062, -0.0867), (16.107, -0.0931), (16.151, -0.0783), (16.196, -0.0755), (16.284, -0.0769), (16.32, -0.0811),
    (16.356, -0.0783), (16.391, -0.0769), (16.427, -0.0783), (16.462, -0.0825), (16.498, -0.0867), (16.533, -0.0924),
    (16.569, -0.0839), (16.596, -0.0741), (16.622, -0.0825), (16.658, -0.0924), (16.693, -0.0881), (16.729, -0.0825),
    (16.764, -0.0825), (16.8, -0.0853), (16.836, -0.0825), (16.871, -0.0881), (16.907, -0.0938), (16.951, -0.0938),
    (16.996, -0.0966), (17.04, -0.0994), (17.084, -0.098), (17.129, -0.0909), (17.173, -0.0713), (17.218, -0.0741),
    (17.262, -0.0783), (17.307, -0.0713), (17.333, -0.0601), (17.369, -0.0615), (17.404, -0.0699), (17.44, -0.0727),
    (17.484, -0.0657), (17.529, -0.0671), (17.556, -0.0601), (17.591, -0.0615), (17.636, -0.0573), (17.662, -0.0559),
    (17.707, -0.0657), (17.751, -0.0762), (17.796, -0.0769), (17.84, -0.0797), (17.884, -0.0867), (17.929, -0.0909),
    (17.973, -0.0952), (18.018, -0.105), (18.062, -0.1078), (18.107, -0.1022), (18.151, -0.0909), (18.196, -0.0924),
    (18.24, -0.0966), (18.284, -0.0909), (18.329, -0.0825), (18.373, -0.0881), (18.418, -0.0909), (18.462, -0.1008),
    (18.507, -0.1022), (18.551, -0.1064), (18.596, -0.0994), (18.64, -0.0867), (18.684, -0.0881), (18.729, -0.0938),
    (18.773, -0.0966), (18.818, -0.0952), (18.862, -0.0881), (18.907, -0.0769), (18.951, -0.0685), (18.996, -0.0657),
    (19.04, -0.0657), (19.084, -0.0502), (19.129, -0.0488), (19.173, -0.0601), (19.218, -0.0727), (19.262, -0.0643),
    (19.307, -0.0559), (19.351, -0.0516), (19.396, -0.0446), (19.44, -0.0516), (19.484, -0.0488), (19.529, -0.0474),
    (19.573, -0.0418), (19.618, -0.0292), (19.662, -0.039), (19.707, -0.0334), (19.751, -0.0306), (19.796, -0.039),
    (19.84, -0.0334), (19.884, -0.0292), (19.929, -0.0278), (19.973, -0.0348), (20.018, -0.0446), (20.062, -0.0446),
    (20.107, -0.0348), (20.151, -0.0334), (20.196, -0.0404), (20.24, -0.0446), (20.284, -0.0404), (20.329, -0.0334),
    (20.373, -0.0278), (20.418, -0.0334), (20.462, -0.0404), (20.507, -0.0334), (20.551, -0.0278), (20.596, -0.0236),
    (20.64, -0.0208), (20.684, -0.018), (20.729, -0.0095), (20.773, -0.0025), (20.818, -0.0095), (20.862, -0.0124),
    (20.907, -0.0039), (20.951, 0.0003), (20.996, -0.0095), (21.04, -0.018), (21.084, -0.0208), (21.129, -0.0152),
    (21.173, -0.0208), (21.218, -0.0166), (21.262, -0.0095), (21.307, -0.0124), (21.351, -0.0081), (21.396, -0.0166),
    (21.44, -0.0264), (21.484, -0.039), (21.529, -0.0292), (21.573, -0.0278), (21.618, -0.0348), (21.662, -0.039),
    (21.707, -0.0278), (21.751, -0.0152), (21.796, -0.0109), (21.84, -0.0102), (21.884, -0.0095), (21.929, -0.0039),
    (21.973, 0.0003), (22.018, -0.0081), (22.062, 0.0038), (22.107, -0.0067), (22.151, -0.0095), (22.196, -0.0109),
    (22.24, -0.0166), (22.284, -0.0222), (22.329, -0.0166), (22.373, -0.0138), (22.418, -0.0152), (22.462, -0.0194),
    (22.507, -0.0208), (22.551, -0.0236), (22.596, -0.0236), (22.64, -0.0334), (22.684, -0.0348), (22.729, -0.0334),
    (22.773, -0.0362), (22.818, -0.0341), (22.862, -0.0348), (22.907, -0.0362), (22.951, -0.0306), (22.996, -0.0278),
    (23.04, -0.025), (23.084, -0.032), (23.129, -0.0404), (23.173, -0.0432), (23.218, -0.0502), (23.244, -0.0376),
    (23.289, -0.0348), (23.324, -0.0418), (23.36, -0.0292), (23.396, -0.0194), (23.44, -0.0124), (23.484, -0.0053),
    (23.529, -0.0081), (23.573, -0.0166), (23.618, -0.0109), (23.662, -0.0095), (23.707, -0.0067), (23.751, -0.0025),
    (23.796, -0.018), (23.84, -0.0208), (23.884, -0.018), (23.929, -0.0138), (23.973, -0.0208), (24.018, -0.018),
    (24.062, -0.0236), (24.107, -0.0264), (24.151, -0.0166), (24.196, -0.0109), (24.24, -0.0039), (24.284, -0.0011),
    (24.329, -0.0025), (24.373, 0.0003), (24.418, 0.0017), (24.462, 0.0017), (24.507, 0.0087), (24.551, 0.0129),
    (24.596, 0.0178), (24.64, 0.0185), (24.684, 0.015), (24.729, 0.0241), (24.773, 0.0298)]

labels = ["A", "B-C", "C-D", "D-E"]
colors = ["blue", "red", "#00ff00", "black"]
xticks = [0, 2, 4, 6, 8, 10, 12, 14, 16, 18, 20, 22, 24]
yticks = [0.1, 0.05, 0, -0.05, -0.1]
yticklabels = ["0.1", "0.05", "0", "\u22120.05", "\u22120.1"]

fs = 19.5
plt.rcParams["font.family"] = ["Liberation Serif", "DejaVu Serif"]
plt.rcParams["font.size"] = fs

fig = plt.figure(figsize=(10.63, 6.85), dpi=100)
ax = fig.add_axes([0.1251, 0.1095, 0.8730, 0.8058])

# zero reference
ax.axhline(0, color="gray", lw=1, ls=(0, (1, 5)), zorder=1)

for series, lab, col in zip([road_a, road_bc, road_cd, road_de], labels, colors):
    t, z = zip(*series)
    ax.plot(t, z, color=col, lw=1.0, label=lab, zorder=2)

ax.set_xlim(0, 24.77)
ax.set_ylim(-0.126, 0.106)
ax.set_xticks(xticks)
ax.set_xticklabels([str(v) for v in xticks])
ax.set_yticks(yticks)
ax.set_yticklabels(yticklabels)

for s in ax.spines.values():
    s.set_color("#555555")
    s.set_linewidth(1.0)
ax.tick_params(direction="in", length=5, width=1, color="#555555",
               top=True, right=True, labelsize=fs)
ax.tick_params(axis="x", pad=8)
ax.tick_params(axis="y", pad=7)

ax.set_title("Road elevation profiles", fontsize=fs, pad=20)
ax.set_xlabel("Time [s]", fontsize=fs, labelpad=6)
ax.set_ylabel("Displacement [m]", fontsize=fs, labelpad=14)

leg = ax.legend(loc="upper right", bbox_to_anchor=(0.988, 0.976), borderaxespad=0,
                fancybox=False, framealpha=1, edgecolor="black", fontsize=fs,
                handlelength=1.75, labelspacing=0.22, borderpad=0.3, handletextpad=0.6)
leg.get_frame().set_linewidth(1.0)

fig.savefig("out.png", dpi=100)
